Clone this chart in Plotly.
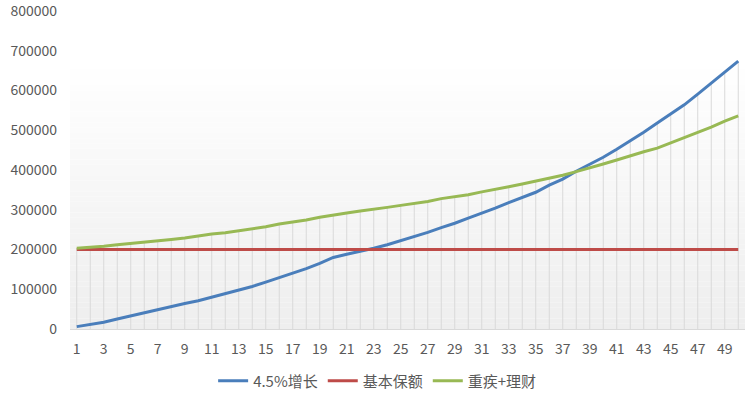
import plotly.graph_objects as go

years = list(range(1, 51))
growth = [6000, 11000, 17000, 25000, 33000, 41000, 49000, 56000, 64000, 71000,
          80000, 88000, 98000, 107000, 118000, 129000, 141000, 152000, 165000, 180000,
          188000, 195000, 203000, 212000, 222000, 232000, 243000, 255000, 266000, 279000,
          291000, 304000, 318000, 331000, 344000, 362000, 377000, 397000, 414000, 432000,
          452000, 473000, 495000, 518000, 541000, 564000, 591000, 618000, 645000, 674000]
base = [200000] * 50
combo = [203000, 205000, 208000, 212000, 215000, 218000, 222000, 225000, 229000, 234000,
         239000, 242000, 247000, 252000, 257000, 264000, 269000, 274000, 281000, 287000,
         292000, 297000, 301000, 306000, 311000, 316000, 321000, 328000, 333000, 338000,
         345000, 351000, 358000, 365000, 372000, 380000, 387000, 396000, 405000, 415000,
         425000, 436000, 446000, 455000, 468000, 481000, 495000, 508000, 523000, 536000]
names = ["4.5%增长", "基本保额", "重疾+理财"]
colors = ["#4A7EBB", "#BE4B48", "#98B954"]
x_ticks = list(range(1, 51, 2))
y_ticks = list(range(0, 800001, 100000))

font_family = "Noto Sans CJK SC, Noto Sans, DejaVu Sans"

fig = go.Figure()

# drop lines from the highest series down to the axis
drop_x, drop_y = [], []
for xv, a, b, c in zip(years, growth, base, combo):
    drop_x += [xv, xv, None]
    drop_y += [0, max(a, b, c), None]
fig.add_trace(go.Scatter(x=drop_x, y=drop_y, mode="lines", showlegend=False,
                         hoverinfo="skip", line=dict(color="#D9D9D9", width=1)))

for name, vals, c in zip(names, [growth, base, combo], colors):
    fig.add_trace(go.Scatter(x=years, y=vals, name=name, mode="lines",
                             line=dict(color=c, width=3)))

# background vertical gradient (white at top, light gray at bottom)
n = 60
shapes = []
for i in range(n):
    t = i / (n - 1)  # 0 bottom -> 1 top
    g = int(round(0xEE + (0xFF - 0xEE) * min(1.0, t / 0.85)))
    shapes.append(dict(type="rect", xref="paper", yref="paper",
                       x0=0, x1=1, y0=i / n, y1=(i + 1) / n,
                       fillcolor=f"rgb({g},{g},{g})", line=dict(width=0),
                       layer="below"))

fig.update_layout(
    width=748, height=397,
    margin=dict(l=70, r=3, t=11, b=68, autoexpand=False),
    paper_bgcolor="white", plot_bgcolor="white",
    font=dict(family=font_family, size=14, color="#595959"),
    shapes=shapes,
    showlegend=True,
    legend=dict(orientation="h", x=0.455, xanchor="center",
                yref="container", y=0.04, yanchor="middle",
                font=dict(size=15, color="#595959"),
                itemwidth=30, bgcolor="rgba(0,0,0,0)"),
    xaxis=dict(range=[0.5, 50.5], tickmode="array", tickvals=x_ticks,
               ticktext=[str(v) for v in x_ticks],
               showgrid=False,
               showline=True, linecolor="#D9D9D9", linewidth=1,
               ticks="", zeroline=False, ticklabelstandoff=7),
    yaxis=dict(range=[0, 800000], tickmode="array", tickvals=y_ticks,
               ticktext=[str(v) for v in y_ticks],
               showgrid=False, zeroline=False, showline=False,
               ticks="", ticklabelstandoff=12, ticklabeloverflow="allow"),
)

fig.write_html("out.html")
